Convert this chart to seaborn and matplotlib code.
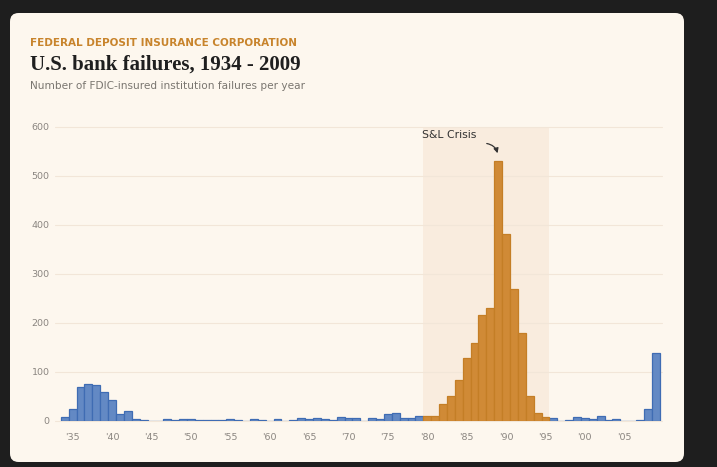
import numpy as np
import pandas as pd
import matplotlib
matplotlib.use('Agg')
import matplotlib.pyplot as plt
from matplotlib.patches import FancyBboxPatch
import seaborn as sns

# failures per year
years = list(range(1934, 2010))
failures = [9, 25, 69, 75, 74, 60, 43, 15, 20, 5,
            2, 1, 1, 5, 3, 4, 4, 2, 3, 2,
            2, 5, 2, 1, 4, 3, 1, 5, 1, 2,
            7, 5, 7, 4, 3, 9, 7, 6, 1, 6,
            4, 14, 17, 6, 7, 10, 11, 10, 34, 50,
            84, 129, 159, 215, 231, 530, 381, 268, 180, 51,
            16, 9, 6, 1, 3, 8, 7, 4, 11, 3,
            4, 0, 0, 3, 25, 138]
crisis_start, crisis_end = 1980, 1995
tick_years = [1935, 1940, 1945, 1950, 1955, 1960, 1965, 1970, 1975,
              1980, 1985, 1990, 1995, 2000, 2005]
y_ticks = [0, 100, 200, 300, 400, 500, 600]

df = pd.DataFrame({'year': [str(y) for y in years], 'failures': failures})
df['period'] = ['crisis' if crisis_start <= y <= crisis_end else 'normal' for y in years]

blue, blue_edge = '#6389c4', '#3f6cb3'
orange, orange_edge = '#d08a36', '#c47e26'
card = '#fdf7ee'

sns.set_theme(style='white')
plt.rcParams['font.family'] = ['DejaVu Sans']

W, H = 717, 467
fig = plt.figure(figsize=(W / 100, H / 100), dpi=100, facecolor='#1e1e1e')
fig.patches.append(FancyBboxPatch((10 / W, 1 - 462 / H), 674 / W, 449 / H,
                                  boxstyle='round,pad=0,rounding_size=0.012',
                                  mutation_aspect=W / H,
                                  transform=fig.transFigure, fc=card, ec='none', zorder=-5))

# axes placed in pixel terms
L, R, B, T = 55.3, 662.1, 421.0, 126.5
ax = fig.add_axes([L / W, 1 - B / H, (R - L) / W, (B - T) / H])
ax.set_facecolor('none')
ax.set_zorder(2)

i0, i1 = years.index(crisis_start), years.index(crisis_end)
span = ax.axvspan(i0 - 0.5, i1 + 0.5, facecolor='#f9ecde', edgecolor='none', zorder=0)

sns.barplot(data=df, x='year', y='failures', hue='period', order=df['year'],
            palette={'normal': blue, 'crisis': orange}, dodge=False, width=1,
            saturation=1, legend=False, ax=ax, zorder=3)
for p in ax.patches:
    if p is span:
        continue
    idx = int(round(p.get_x() + p.get_width() / 2))
    p.set_edgecolor(orange_edge if i0 <= idx <= i1 else blue_edge)
    p.set_linewidth(0.9)

ax.set_xlim(-1.2, 75.8)
ax.set_ylim(0, 600)
for y in y_ticks:
    ax.axhline(y, color='#f2e6d8', lw=0.8, zorder=1, clip_on=False)
ax.set_yticks(y_ticks)
ax.set_yticklabels([str(v) for v in y_ticks], fontsize=6.8, color='#8a8580')
ax.set_xticks([years.index(y) for y in tick_years])
ax.set_xticklabels(["'" + str(y)[2:] for y in tick_years], fontsize=6.8, color='#8a8580')
ax.tick_params(axis='x', length=0, pad=9)
ax.tick_params(axis='y', length=0, pad=4)
ax.set_xlabel('')
ax.set_ylabel('')
sns.despine(ax=ax, left=True, bottom=True)

# annotation
ax.text(45.3, 582, 'S&L Crisis', fontsize=7.8, color='#333333', va='center', ha='left')
ax.annotate('', xy=(years.index(1989), 540), xytext=(53.2, 566),
            arrowprops=dict(arrowstyle='-|>', color='#333333', lw=0.9,
                            mutation_scale=7, connectionstyle='arc3,rad=-0.4'))

fig.text(30 / W, 1 - 43 / H, 'FEDERAL DEPOSIT INSURANCE CORPORATION', fontsize=7.5,
         fontweight='bold', color='#c8842c', va='center')
fig.text(30 / W, 1 - 65 / H, 'U.S. bank failures, 1934 - 2009', fontsize=15,
         family='Liberation Serif', fontweight='bold', color='#1f1f1f', va='center')
fig.text(30 / W, 1 - 86 / H, 'Number of FDIC-insured institution failures per year',
         fontsize=7.6, color='#7a7670', va='center')

fig.savefig('out.png', dpi=100, facecolor=fig.get_facecolor())
